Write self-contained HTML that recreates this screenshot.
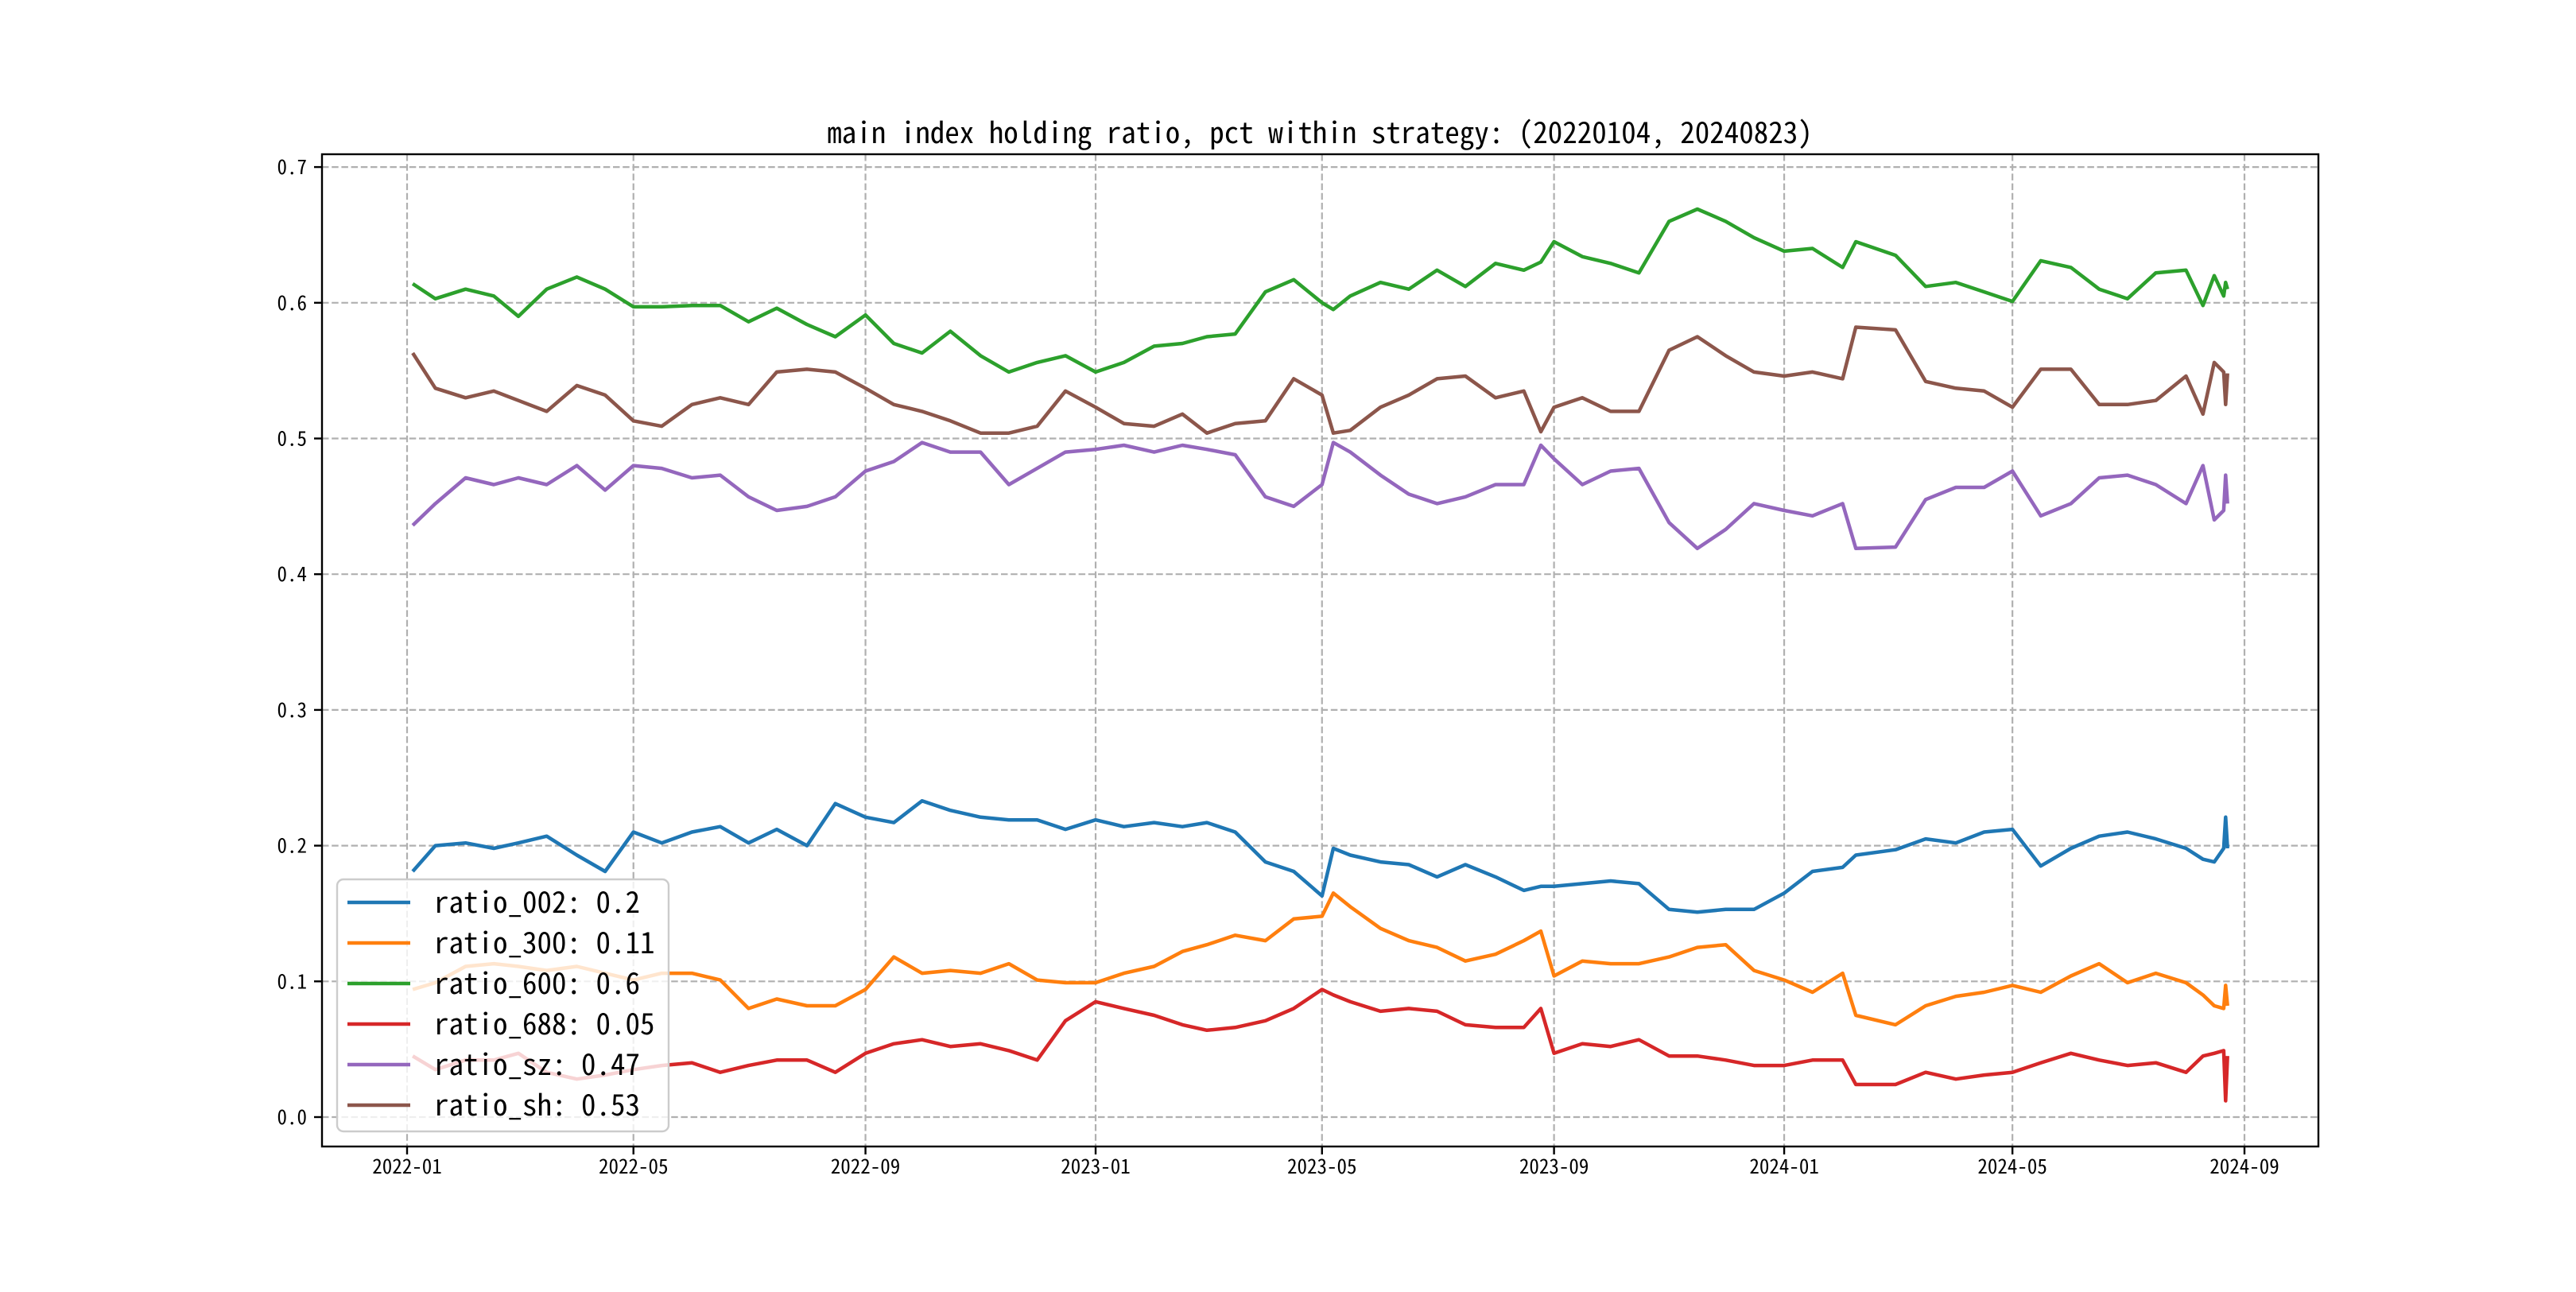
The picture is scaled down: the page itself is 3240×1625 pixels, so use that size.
<!DOCTYPE html>
<html><head><meta charset="utf-8">
<style>
html,body{margin:0;padding:0;background:#fff;}
svg text{font-family:"Noto Sans Mono CJK SC","WenQuanYi Zen Hei Mono","WenQuanYi Zen Hei","Liberation Sans",sans-serif;}
</style></head>
<body>
<svg id="chart" xmlns="http://www.w3.org/2000/svg" width="3240" height="1620" viewBox="0 0 3240 1620">
<rect x="0" y="0" width="3240" height="1620" fill="#fff"/>
<text x="1660" y="180" font-size="37" text-anchor="middle" fill="#000">main index holding ratio, pct within strategy: (20220104, 20240823)</text>
<g id="grid"></g>
<g id="series"></g>
<rect x="405" y="194" width="2511" height="1248" fill="none" stroke="#000" stroke-width="2.4"/>
<g id="ticks"></g>
<g id="legend"></g>
</svg>
<script>
const dates = ["2022-01-04","2022-01-16","2022-02-01","2022-02-16","2022-03-01","2022-03-16","2022-04-01","2022-04-16","2022-05-01","2022-05-16","2022-06-01","2022-06-16","2022-07-01","2022-07-16","2022-08-01","2022-08-16","2022-09-01","2022-09-16","2022-10-01","2022-10-16","2022-11-01","2022-11-16","2022-12-01","2022-12-16","2023-01-01","2023-01-16","2023-02-01","2023-02-16","2023-03-01","2023-03-16","2023-04-01","2023-04-16",
"2023-05-01","2023-05-07","2023-05-16","2023-06-01","2023-06-16","2023-07-01","2023-07-16","2023-08-01","2023-08-16","2023-08-25","2023-09-01","2023-09-16","2023-10-01","2023-10-16","2023-11-01","2023-11-16","2023-12-01","2023-12-16","2024-01-01","2024-01-16","2024-02-01","2024-02-08","2024-02-29","2024-03-16","2024-04-01","2024-04-16","2024-05-01","2024-05-16","2024-06-01","2024-06-16","2024-07-01","2024-07-16","2024-08-01","2024-08-10","2024-08-16","2024-08-21","2024-08-22","2024-08-23"];
const ratio002 = [0.181,0.2,0.202,0.198,0.202,0.207,0.193,0.181,0.21,0.202,0.21,0.214,0.202,0.212,0.2,0.231,0.221,0.217,0.233,0.226,0.221,0.219,0.219,0.212,0.219,0.214,0.217,0.214,0.217,0.21,0.188,0.181,
0.163,0.198,0.193,0.188,0.186,0.177,0.186,0.177,0.167,0.17,0.17,0.172,0.174,0.172,0.153,0.151,0.153,0.153,0.165,0.181,0.184,0.193,0.197,0.205,0.202,0.21,0.212,0.185,0.198,0.207,0.21,0.205,0.198,0.19,0.188,0.198,0.221,0.198];
const ratio300 = [0.094,0.099,0.111,0.113,0.111,0.108,0.111,0.106,0.101,0.106,0.106,0.101,0.08,0.087,0.082,0.082,0.094,0.118,0.106,0.108,0.106,0.113,0.101,0.099,0.099,0.106,0.111,0.122,0.127,0.134,0.13,0.146,
0.148,0.165,0.155,0.139,0.13,0.125,0.115,0.12,0.13,0.137,0.104,0.115,0.113,0.113,0.118,0.125,0.127,0.108,0.101,0.092,0.106,0.075,0.068,0.082,0.089,0.092,0.097,0.092,0.104,0.113,0.099,0.106,0.099,0.09,0.082,0.08,0.097,0.082];
const ratio600 = [0.614,0.603,0.61,0.605,0.59,0.61,0.619,0.61,0.597,0.597,0.598,0.598,0.586,0.596,0.584,0.575,0.591,0.57,0.563,0.579,0.561,0.549,0.556,0.561,0.549,0.556,0.568,0.57,0.575,0.577,0.608,0.617,
0.60,0.595,0.605,0.615,0.61,0.624,0.612,0.629,0.624,0.63,0.645,0.634,0.629,0.622,0.66,0.669,0.66,0.648,0.638,0.64,0.626,0.645,0.635,0.612,0.615,0.608,0.601,0.631,0.626,0.61,0.603,0.622,0.624,0.598,0.62,0.605,0.615,0.61];
const ratio688 = [0.045,0.035,0.042,0.042,0.047,0.033,0.028,0.031,0.035,0.038,0.04,0.033,0.038,0.042,0.042,0.033,0.047,0.054,0.057,0.052,0.054,0.049,0.042,0.071,0.085,0.08,0.075,0.068,0.064,0.066,0.071,0.08,
0.094,0.09,0.085,0.078,0.08,0.078,0.068,0.066,0.066,0.08,0.047,0.054,0.052,0.057,0.045,0.045,0.042,0.038,0.038,0.042,0.042,0.024,0.024,0.033,0.028,0.031,0.033,0.04,0.047,0.042,0.038,0.04,0.033,0.045,0.047,0.049,0.012,0.045];
const ratioSz = [0.436,0.452,0.471,0.466,0.471,0.466,0.48,0.462,0.48,0.478,0.471,0.473,0.457,0.447,0.45,0.457,0.476,0.483,0.497,0.49,0.49,0.466,0.478,0.49,0.492,0.495,0.49,0.495,0.492,0.488,0.457,0.45,
0.466,0.497,0.49,0.473,0.459,0.452,0.457,0.466,0.466,0.495,0.485,0.466,0.476,0.478,0.438,0.419,0.433,0.452,0.447,0.443,0.452,0.419,0.42,0.455,0.464,0.464,0.476,0.443,0.452,0.471,0.473,0.466,0.452,0.48,0.44,0.447,0.473,0.452];
const ratioSh = [0.563,0.537,0.53,0.535,0.528,0.52,0.539,0.532,0.513,0.509,0.525,0.53,0.525,0.549,0.551,0.549,0.537,0.525,0.52,0.513,0.504,0.504,0.509,0.535,0.523,0.511,0.509,0.518,0.504,0.511,0.513,0.544,
0.532,0.504,0.506,0.523,0.532,0.544,0.546,0.53,0.535,0.505,0.523,0.53,0.52,0.52,0.565,0.575,0.561,0.549,0.546,0.549,0.544,0.582,0.58,0.542,0.537,0.535,0.523,0.551,0.551,0.525,0.525,0.528,0.546,0.518,0.556,0.549,0.525,0.548];
const seriesNames = ["ratio_002","ratio_300","ratio_600","ratio_688","ratio_sz","ratio_sh"];
const legendLabels = ["ratio_002: 0.2","ratio_300: 0.11","ratio_600: 0.6","ratio_688: 0.05","ratio_sz: 0.47","ratio_sh: 0.53"];
const yTicks = [0.0,0.1,0.2,0.3,0.4,0.5,0.6,0.7];
const yTickLabels = ["0.0","0.1","0.2","0.3","0.4","0.5","0.6","0.7"];
const xTicks = ["2022-01-01","2022-05-01","2022-09-01","2023-01-01","2023-05-01","2023-09-01","2024-01-01","2024-05-01","2024-09-01"];
const xTickLabels = ["2022-01","2022-05","2022-09","2023-01","2023-05","2023-09","2024-01","2024-05","2024-09"];

const colors = ["#1f77b4","#ff7f0e","#2ca02c","#d62728","#9467bd","#8c564b"];
const allSeries = [ratio002,ratio300,ratio600,ratio688,ratioSz,ratioSh];
const NS = "http://www.w3.org/2000/svg";
const T0 = Date.UTC(2022,0,1);
function dayOf(s){const p=s.split("-");return (Date.UTC(+p[0],+p[1]-1,+p[2])-T0)/86400000;}
function xScale(s){return 512 + dayOf(s)*2.3727;}
function yScale(v){return 1405 - v*1707;}
function mk(tag, attrs, parent){const e=document.createElementNS(NS,tag);for(const k in attrs)e.setAttribute(k,attrs[k]);parent.appendChild(e);return e;}

const grid = document.getElementById("grid");
const ticks = document.getElementById("ticks");
yTicks.forEach((v,i)=>{
  const y=yScale(v);
  const g=mk("line",{x1:405,x2:2916,y1:y,y2:y,stroke:"#b0b0b0","stroke-width":2.2,"stroke-dasharray":"8.5,3.7"},grid);
  
  
  const t=mk("line",{x1:395,x2:405,y1:y,y2:y,stroke:"#000","stroke-width":2.4},ticks);
  
  
  const l=mk("text",{x:386,y:y+9,"font-size":25,"text-anchor":"end",fill:"#000"},ticks);
  l.textContent=yTickLabels[i];
  
  
});
xTicks.forEach((d,i)=>{
  const x=xScale(d);
  const g=mk("line",{x1:x,x2:x,y1:194,y2:1442,stroke:"#b0b0b0","stroke-width":2.2,"stroke-dasharray":"8.5,3.7"},grid);
  
  
  const t=mk("line",{x1:x,x2:x,y1:1442,y2:1452,stroke:"#000","stroke-width":2.4},ticks);
  
  
  const l=mk("text",{x:x,y:1476,"font-size":25,"text-anchor":"middle",fill:"#000"},ticks);
  l.textContent=xTickLabels[i];
  
  
});
const sg=document.getElementById("series");
allSeries.forEach((vals,si)=>{
  const pts=vals.map((v,i)=>xScale(dates[i]).toFixed(1)+","+yScale(v).toFixed(1)).join(" ");
  const p=mk("polyline",{points:pts,fill:"none",stroke:colors[si],"stroke-width":4.5,"stroke-linejoin":"round"},sg);
  
  
});
const lg=document.getElementById("legend");
const box=mk("rect",{x:424,y:1106,width:417,height:317,rx:8,fill:"#fff","fill-opacity":0.8,stroke:"#cccccc","stroke-width":2.4},lg);


legendLabels.forEach((lab,i)=>{
  const cy=1135+i*51;
  const h=mk("line",{x1:437,x2:516,y1:cy,y2:cy,stroke:colors[i],"stroke-width":4.5},lg);
  
  
  const t=mk("text",{x:546,y:cy+13,"font-size":37,fill:"#000"},lg);
  t.textContent=lab;
  
  
});
</script>
</body></html>
